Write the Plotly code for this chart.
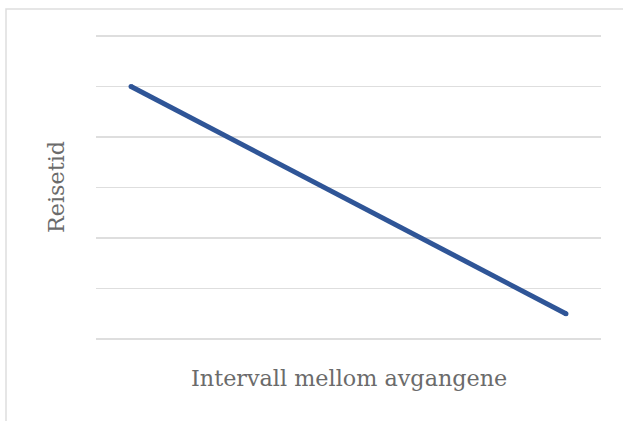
import plotly.graph_objects as go

x_vals = [0, 1]
y_vals = [5.0, 0.5]
x_title = "Intervall mellom avgangene"
y_title = "Reisetid"

W, H = 623, 421
L, R, T, B = 96, 22, 35, 81
pw, ph = W - L - R, H - T - B
bottom_px = T + ph
TEXT = "#6B6B6B"
GRID = "#DEDEDE"

fig = go.Figure()
fig.add_trace(go.Scatter(x=x_vals, y=y_vals, mode="lines+markers",
                         line=dict(color="#2F5597", width=5),
                         marker=dict(color="#2F5597", size=5, line=dict(width=0)),
                         hoverinfo="skip"))

fig.update_layout(
    width=W, height=H,
    margin=dict(l=L, r=R, t=T, b=B),
    paper_bgcolor="white", plot_bgcolor="white",
    showlegend=False,
    xaxis=dict(range=[-0.0805, 1.0805], showgrid=False, zeroline=False,
               showticklabels=False, showline=False, ticks=""),
    yaxis=dict(range=[-0.02, 6.02], tickvals=[0, 1, 2, 3, 4, 5, 6], showgrid=True,
               gridcolor=GRID, gridwidth=1.5,
               zeroline=False, showticklabels=False, showline=False, ticks=""),
    font=dict(family="DejaVu Serif", color=TEXT),
)
fig.add_annotation(text=x_title, xref="paper", yref="paper", x=0.5,
                   y=-(378 - bottom_px) / ph, xanchor="center", yanchor="middle",
                   showarrow=False, font=dict(size=22.3, family="DejaVu Serif", color=TEXT))
fig.add_annotation(text=y_title, xref="paper", yref="paper", x=(56 - L) / pw,
                   y=(bottom_px - 187) / ph, xanchor="center", yanchor="middle",
                   textangle=-90, showarrow=False,
                   font=dict(size=22.3, family="DejaVu Serif", color=TEXT))
fig.add_shape(type="rect", xref="paper", yref="paper",
              x0=(6 - L) / pw, x1=(W + 20 - L) / pw,
              y0=-(H + 20 - bottom_px) / ph, y1=1 + (T - 9) / ph,
              line=dict(color=GRID, width=1.5), layer="below")
fig.write_html("out.html", config={"displayModeBar": False, "staticPlot": True},
               post_script="document.body.style.margin='0';")
